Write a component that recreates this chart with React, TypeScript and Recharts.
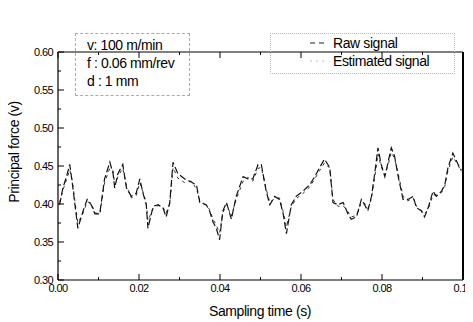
import React from 'react';
import { LineChart, Line, XAxis, YAxis, Legend } from 'recharts';

const TIME = [
  0.0004, 0.0012, 0.0021, 0.0029, 0.0035, 0.0049, 0.0062, 0.0072, 0.0082, 0.0091, 0.0103, 0.0115,
  0.0128, 0.0136, 0.014, 0.0148, 0.016, 0.0169, 0.0181, 0.0193, 0.0202, 0.021, 0.0218, 0.0222,
  0.0235, 0.0247, 0.0259, 0.0267, 0.0276, 0.0284, 0.0296, 0.0313, 0.0329, 0.0342, 0.035, 0.0366,
  0.0374, 0.0383, 0.0391, 0.0399, 0.0407, 0.0416, 0.0428, 0.044, 0.0457, 0.0469, 0.0481, 0.0494,
  0.0502, 0.0514, 0.0523, 0.0535, 0.0547, 0.0556, 0.0564, 0.0576, 0.0588, 0.0605, 0.0621, 0.0634,
  0.0646, 0.0658, 0.0671, 0.0679, 0.0691, 0.0704, 0.0716, 0.0724, 0.0737, 0.0749, 0.0757, 0.0765,
  0.0774, 0.0782, 0.079, 0.0798, 0.0807, 0.0815, 0.0823, 0.0831, 0.084, 0.0852, 0.0864, 0.0877,
  0.0885, 0.0897, 0.0905, 0.0914, 0.0926, 0.0934, 0.0947, 0.0955, 0.0963, 0.0975, 0.0988, 0.0996,
];

const RAW = [
  0.399, 0.421, 0.436, 0.452, 0.429, 0.368, 0.391, 0.406, 0.399, 0.387, 0.387, 0.433,
  0.455, 0.44, 0.421, 0.44, 0.452, 0.421, 0.41, 0.414, 0.433, 0.414, 0.399, 0.368,
  0.397, 0.399, 0.395, 0.383, 0.402, 0.455, 0.44, 0.433, 0.429, 0.425, 0.402, 0.399,
  0.391, 0.376, 0.368, 0.353, 0.391, 0.402, 0.38, 0.41, 0.436, 0.433, 0.433, 0.452,
  0.452, 0.417, 0.399, 0.41, 0.406, 0.387, 0.361, 0.399, 0.41, 0.417, 0.425, 0.436,
  0.448, 0.459, 0.448, 0.402, 0.399, 0.402, 0.387, 0.38, 0.383, 0.406, 0.399, 0.391,
  0.41, 0.44, 0.474, 0.452, 0.436, 0.455, 0.474, 0.463, 0.436, 0.406, 0.406, 0.41,
  0.395, 0.391, 0.383, 0.395, 0.417, 0.41, 0.417, 0.425, 0.448, 0.467, 0.452, 0.444,
];

const EST = [
  0.402, 0.418, 0.432, 0.445, 0.431, 0.375, 0.388, 0.403, 0.401, 0.389, 0.386, 0.428,
  0.447, 0.444, 0.425, 0.436, 0.447, 0.424, 0.408, 0.411, 0.428, 0.416, 0.401, 0.378,
  0.394, 0.398, 0.396, 0.388, 0.4, 0.448, 0.434, 0.428, 0.43, 0.42, 0.405, 0.398,
  0.393, 0.38, 0.372, 0.362, 0.388, 0.4, 0.384, 0.406, 0.43, 0.435, 0.43, 0.447,
  0.448, 0.42, 0.402, 0.407, 0.408, 0.39, 0.37, 0.396, 0.407, 0.414, 0.422, 0.433,
  0.444, 0.454, 0.447, 0.406, 0.397, 0.398, 0.39, 0.383, 0.385, 0.402, 0.401, 0.394,
  0.407, 0.435, 0.466, 0.449, 0.438, 0.451, 0.468, 0.46, 0.44, 0.41, 0.404, 0.408,
  0.397, 0.392, 0.387, 0.393, 0.412, 0.412, 0.415, 0.423, 0.444, 0.462, 0.451, 0.442,
];

const X_TICKS = [0, 0.01, 0.02, 0.03, 0.04, 0.05, 0.06, 0.07, 0.08, 0.09, 0.1];
const X_MAJOR = [0, 0.02, 0.04, 0.06, 0.08, 0.1];
const Y_TICKS = [0.3, 0.325, 0.35, 0.375, 0.4, 0.425, 0.45, 0.475, 0.5, 0.525, 0.55, 0.575, 0.6];
const Y_MAJOR = [0.3, 0.35, 0.4, 0.45, 0.5, 0.55, 0.6];

const SERIES_NAMES = ['Raw signal', 'Estimated signal'];
const PARAMS = ['v: 100 m/min', 'f : 0.06 mm/rev', 'd : 1 mm'];
const X_TITLE = 'Sampling time (s)';
const Y_TITLE = 'Principal force (v)';

const data = TIME.map((t, i) => ({ t, raw: RAW[i], est: EST[i] }));

const FONT = '"Liberation Sans", Arial, sans-serif';
const isMajor = (arr: number[], v: number) => arr.some((m) => Math.abs(m - v) < 1e-9);

const BottomTick = (p: any) => {
  const { x, y, payload } = p;
  const major = isMajor(X_MAJOR, payload.value);
  return (
    <g>
      <line x1={x} x2={x} y1={y} y2={y - (major ? 6 : 3)} stroke="#000" strokeWidth={1} />
      {major && (
        <text x={x} y={y + 12} textAnchor="middle" fontSize={11} fontFamily={FONT} letterSpacing={-0.6} fill="#000">
          {payload.value.toFixed(2)}
        </text>
      )}
    </g>
  );
};

const TopTick = (p: any) => {
  const { x, y, payload } = p;
  const major = isMajor(X_MAJOR, payload.value);
  return <line x1={x} x2={x} y1={y} y2={y + (major ? 6 : 3)} stroke="#000" strokeWidth={1} />;
};

const LeftTick = (p: any) => {
  const { x, y, payload } = p;
  const major = isMajor(Y_MAJOR, payload.value);
  return (
    <g>
      <line x1={x} x2={x + (major ? 6 : 3)} y1={y} y2={y} stroke="#000" strokeWidth={1} />
      {major && (
        <text x={x - 5} y={y + 4} textAnchor="end" fontSize={11} fontFamily={FONT} letterSpacing={-0.6} fill="#000">
          {payload.value.toFixed(2)}
        </text>
      )}
    </g>
  );
};

const RightTick = (p: any) => {
  const { x, y, payload } = p;
  const major = isMajor(Y_MAJOR, payload.value);
  return <line x1={x} x2={x - (major ? 6 : 3)} y1={y} y2={y} stroke="#000" strokeWidth={1} />;
};

const LegendContent = () => (
  <div style={{ fontFamily: FONT, fontSize: 14, color: '#000', letterSpacing: -0.4, lineHeight: '18px' }}>
    <div style={{ display: 'flex', alignItems: 'center' }}>
      <svg width={20} height={10} style={{ marginRight: 3 }}>
        <line x1={0} x2={18} y1={5} y2={5} stroke="#222" strokeWidth={1} strokeDasharray="5 4" />
      </svg>
      <span>{SERIES_NAMES[0]}</span>
    </div>
    <div style={{ display: 'flex', alignItems: 'center' }}>
      <svg width={20} height={10} style={{ marginRight: 3 }}>
        <line x1={0} x2={18} y1={5} y2={5} stroke="#bbb" strokeWidth={1} strokeDasharray="2 4" />
      </svg>
      <span>{SERIES_NAMES[1]}</span>
    </div>
  </div>
);

export default function App() {
  return (
    <div style={{ position: 'relative', width: 465, height: 314, background: '#fff' }}>
      <LineChart width={465} height={314} data={data} margin={{ top: 4, right: 6, bottom: 12, left: 0 }}>
        <XAxis
          xAxisId="b"
          dataKey="t"
          type="number"
          domain={[0, 0.1]}
          ticks={X_TICKS}
          interval={0}
          tickSize={0}
          tickMargin={0}
          tick={BottomTick}
          height={30}
          axisLine={{ stroke: '#000', strokeWidth: 1.2 }}
          tickLine={false}
        />
        <XAxis
          xAxisId="t"
          orientation="top"
          dataKey="t"
          type="number"
          domain={[0, 0.1]}
          ticks={X_TICKS}
          interval={0}
          tickSize={0}
          tickMargin={0}
          tick={TopTick}
          height={4}
          axisLine={{ stroke: '#000', strokeWidth: 1.2 }}
          tickLine={false}
        />
        <YAxis
          yAxisId="l"
          type="number"
          domain={[0.3, 0.6]}
          ticks={Y_TICKS}
          interval={0}
          tickSize={0}
          tickMargin={0}
          tick={LeftTick}
          width={50}
          axisLine={{ stroke: '#000', strokeWidth: 1.2 }}
          tickLine={false}
          allowDataOverflow
        />
        <YAxis
          yAxisId="r"
          orientation="right"
          type="number"
          domain={[0.3, 0.6]}
          ticks={Y_TICKS}
          interval={0}
          tickSize={0}
          tickMargin={0}
          tick={RightTick}
          width={4}
          axisLine={{ stroke: '#000', strokeWidth: 2 }}
          tickLine={false}
        />
        <Legend
          verticalAlign="top"
          align="left"
          content={LegendContent}
          wrapperStyle={{ position: 'absolute', top: 26, left: 302, width: 150 }}
        />
        <Line
          xAxisId="b"
          yAxisId="l"
          type="linear"
          dataKey="est"
          name={SERIES_NAMES[1]}
          stroke="#333"
          strokeWidth={1}
          strokeDasharray="3 4"
          dot={false}
          isAnimationActive={false}
        />
        <Line
          xAxisId="b"
          yAxisId="l"
          type="linear"
          dataKey="raw"
          name={SERIES_NAMES[0]}
          stroke="#111"
          strokeWidth={1.2}
          strokeDasharray="7 3"
          dot={false}
          isAnimationActive={false}
        />
      </LineChart>

      {/* parameter box */}
      <div
        style={{
          position: 'absolute',
          left: 67,
          top: 25,
          width: 115,
          height: 63,
          border: '1px dashed #aaa',
          boxSizing: 'border-box',
        }}
      />
      <div
        style={{
          position: 'absolute',
          left: 79,
          top: 28,
          fontFamily: FONT,
          fontSize: 14,
          letterSpacing: -0.4,
          lineHeight: '18px',
          color: '#000',
          whiteSpace: 'nowrap',
        }}
      >
        {PARAMS.map((s) => (
          <div key={s}>{s}</div>
        ))}
      </div>

      {/* legend box */}
      <div
        style={{
          position: 'absolute',
          left: 262,
          top: 25,
          width: 185,
          height: 41,
          border: '1px dotted #bbb',
          boxSizing: 'border-box',
        }}
      />

      {/* axis titles */}
      <div
        style={{
          position: 'absolute',
          left: 252,
          top: 303,
          transform: 'translate(-50%, -50%)',
          fontFamily: FONT,
          fontSize: 14,
          letterSpacing: -0.4,
          color: '#000',
          whiteSpace: 'nowrap',
        }}
      >
        {X_TITLE}
      </div>
      <div
        style={{
          position: 'absolute',
          left: 6,
          top: 144,
          transform: 'translate(-50%, -50%) rotate(-90deg)',
          fontFamily: FONT,
          fontSize: 14,
          letterSpacing: -0.4,
          color: '#000',
          whiteSpace: 'nowrap',
        }}
      >
        {Y_TITLE}
      </div>
    </div>
  );
}
